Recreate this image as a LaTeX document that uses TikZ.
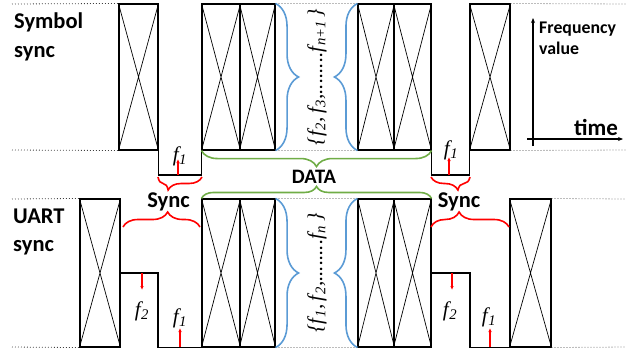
\documentclass[tikz,border=0pt]{standalone}
\usepackage{fontspec}
\setmainfont{Carlito}
\newfontfamily\lsf{Liberation Serif}
\usetikzlibrary{decorations.pathreplacing,arrows.meta}
\definecolor{bblue}{HTML}{5B9BD5}
\definecolor{bgreen}{HTML}{70AD47}
\definecolor{bred}{HTML}{FF0000}
\newcommand\fs[1]{f\kern0.5pt\textsubscript{#1}}
\begin{document}
\begin{tikzpicture}[x=1pt,y=-1pt,
  cellT/.style={draw, line width=1.1pt, inner sep=0pt, minimum height=146pt},
  cellB/.style={draw, line width=1.1pt, inner sep=0pt, minimum height=148pt},
  diag/.style={line width=0.7pt},
  wave/.style={line width=1.1pt},
  dots/.style={line width=0.8pt, gray!50!black, dash pattern=on 0.8pt off 2.2pt},
  bbrace/.style={bblue, line width=1.6pt, decorate},
  gbrace/.style={bgreen, line width=1.6pt, decorate},
  rbrace/.style={bred, line width=1.6pt, decorate},
  redarr/.style={bred, line width=1.1pt, -{Latex[length=4pt,width=3.5pt]}},
  axarr/.style={black, line width=1.1pt, -{Stealth[length=5pt,width=4pt]}},
  lab/.style={inner sep=0pt, font=\fontsize{22.5}{26}\selectfont\bfseries},
  flab/.style={inner sep=0pt, font=\fontsize{21}{24}\selectfont\lsf\itshape},
  rlab/.style={inner sep=0pt, rotate=90, font=\fontsize{21}{24}\selectfont\lsf\itshape}
]
\useasboundingbox (0,0) rectangle (636,354);
\newcommand\xcr[1]{\draw[diag] (#1.north west) -- (#1.south east) (#1.north east) -- (#1.south west);}

% ---------- top row (Symbol sync) ----------
\node[cellT, minimum width=39pt] (b1)  at (138.5,77) {};
\node[cellT, minimum width=38pt] (b2a) at (221,77) {};
\node[cellT, minimum width=35pt] (b2b) at (257.5,77) {};
\node[cellT, minimum width=36pt] (b3a) at (376,77) {};
\node[cellT, minimum width=37pt] (b3b) at (412.5,77) {};
\node[cellT, minimum width=40pt] (b4)  at (490,77) {};
\foreach \n in {b1,b2a,b2b,b3a,b3b,b4} {\xcr{\n}}

\coordinate (d1) at (180,175);
\coordinate (d2) at (450,175);
\draw[wave] (b1.south east) |- (d1) -| (b2a.south west);
\draw[wave] (b3b.south east) |- (d2) -| (b4.south west);

\coordinate (L1) at (12,4);   \coordinate (R1) at (626,4);
\coordinate (L2) at (12,150); \coordinate (R2) at (626,150);
\draw[dots] (L1) -- (b1.north west) (b2b.north east) -- (b3a.north west) (b4.north east) -- (R1);
\draw[dots] (L2) -- (b1.south west) (b2b.south east) -- (b3a.south west) (b4.south east) -- (R2);

% ---------- bottom row (UART sync) ----------
\node[cellB, minimum width=40pt] (bA)  at (100,273) {};
\node[cellB, minimum width=38pt] (bBa) at (221,273) {};
\node[cellB, minimum width=35pt] (bBb) at (257.5,273) {};
\node[cellB, minimum width=36pt] (bCa) at (376,273) {};
\node[cellB, minimum width=37pt] (bCb) at (412.5,273) {};
\node[cellB, minimum width=41pt] (bD)  at (530.5,273) {};
\foreach \n in {bA,bBa,bBb,bCa,bCb,bD} {\xcr{\n}}

\coordinate (u1) at (158,273);
\coordinate (u2) at (470,273);
\draw[wave] (bA.east) -- (u1) |- (bBa.south west);
\draw[wave] (bCb.east) -- (u2) |- (bD.south west);

\coordinate (L3) at (12,199); \coordinate (R3) at (626,199);
\coordinate (L4) at (12,347); \coordinate (R4) at (626,347);
\draw[dots] (L3) -- (bA.north west) (bBb.north east) -- (bCa.north west) (bD.north east) -- (R3);
\draw[dots] (L4) -- (bA.south west) (bBb.south east) -- (bCa.south west) (bD.south east) -- (R4);

% ---------- blue braces ----------
\draw[bbrace, decoration={brace,amplitude=23pt}] (b2b.north east) -- (b2b.south east);
\draw[bbrace, decoration={brace,amplitude=23pt}] (b3a.south west) -- (b3a.north west);
\draw[bbrace, decoration={brace,amplitude=23pt}] (bBb.north east) -- (bBb.south east);
\draw[bbrace, decoration={brace,amplitude=23pt}] (bCa.south west) -- (bCa.north west);
\node[rlab] (t1) at (317,77) {\{\fs{2},\,\fs{3},........\fs{n+1}\,\}};
\node[rlab] (t2) at (317,273) {\{\fs{1},\,\fs{2},........\fs{n}\,\}};

% ---------- green braces (DATA) ----------
\draw[gbrace, decoration={brace,amplitude=16pt}] (b3b.south east) -- (b2a.south west);
\draw[gbrace, decoration={brace,amplitude=12pt}] (bBa.north west) -- (bCb.north east);
\node[lab, font=\fontsize{20.5}{24}\selectfont\bfseries, anchor=base] (data) at (314,183) {DATA};

% ---------- red braces (Sync) ----------
\coordinate (ra1) at (202,177); \coordinate (ra2) at (158,177);
\coordinate (rb1) at (470,177); \coordinate (rb2) at (431,177);
\coordinate (rc1) at (123,227); \coordinate (rc2) at (200,227);
\coordinate (rd1) at (431,227); \coordinate (rd2) at (509,227);
\draw[rbrace, decoration={brace,amplitude=13pt,aspect=0.77}] (ra1) -- (ra2);
\draw[rbrace, decoration={brace,amplitude=13pt,aspect=0.31}] (rb1) -- (rb2);
\draw[rbrace, decoration={brace,amplitude=15pt,aspect=0.58}] (rc1) -- (rc2);
\draw[rbrace, decoration={brace,amplitude=15pt,aspect=0.36}] (rd1) -- (rd2);
\node[lab, anchor=base] (sy1) at (168.5,207) {Sync};
\node[lab, anchor=base] (sy2) at (459,207) {Sync};

% ---------- red arrows and f labels ----------
\coordinate (a1s) at (178,175); \coordinate (a1e) at (178,159);
\coordinate (a2s) at (449,175); \coordinate (a2e) at (449,157);
\coordinate (a3s) at (142,273); \coordinate (a3e) at (142,290);
\coordinate (a4s) at (180,347); \coordinate (a4e) at (180,328);
\coordinate (a5s) at (452,273); \coordinate (a5e) at (452,290);
\coordinate (a6s) at (490,347); \coordinate (a6e) at (490,328);
\draw[redarr] (a1s) -- (a1e);
\draw[redarr] (a2s) -- (a2e);
\draw[redarr] (a3s) -- (a3e);
\draw[redarr] (a4s) -- (a4e);
\draw[redarr] (a5s) -- (a5e);
\draw[redarr] (a6s) -- (a6e);
\node[flab] (f1) at (180,156) {\fs{1}};
\node[flab] (f2) at (451,150) {\fs{1}};
\node[flab] (f3) at (142,311) {\fs{2}};
\node[flab] (f4) at (180,318) {\fs{1}};
\node[flab] (f5) at (450,311) {\fs{2}};
\node[flab] (f6) at (489,317) {\fs{1}};

% ---------- row labels ----------
\node[lab, anchor=base west] (sym1) at (14,28) {Symbol};
\node[lab, anchor=base west] (sym2) at (14,57) {sync};
\node[lab, anchor=base west] (ua1) at (13,223) {UART};
\node[lab, anchor=base west] (ua2) at (13,251) {sync};

% ---------- axes ----------
\coordinate (ay0) at (533,146); \coordinate (ay1) at (533,18);
\coordinate (ax0) at (527,139); \coordinate (ax1) at (623,139);
\draw[axarr] (ay0) -- (ay1);
\draw[axarr] (ax0) -- (ax1);
\node[lab, font=\fontsize{17.8}{21}\selectfont\bfseries, anchor=base west] (fq1) at (539,33) {Frequency};
\node[lab, font=\fontsize{17.8}{21}\selectfont\bfseries, anchor=base west] (fq2) at (539,54) {value};
\node[lab, font=\fontsize{23}{26}\selectfont\bfseries, anchor=base] (tm) at (596,135) {time};
\end{tikzpicture}
\end{document}
